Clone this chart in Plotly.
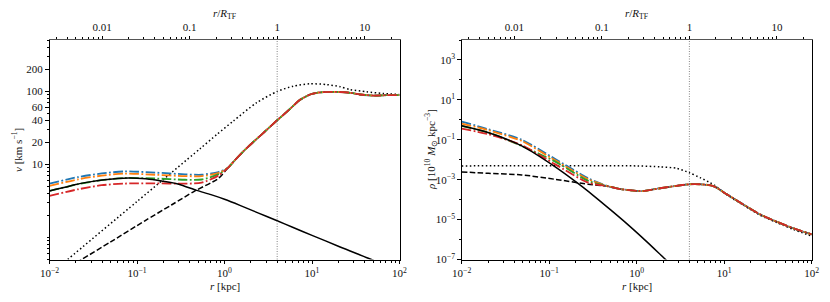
import plotly.graph_objects as go
import math

# ---------------- data ----------------
R_TF = 4.0  # kpc, position of the vertical dotted line / top axis scale

# Left panel: circular velocity v [km/s] vs r [kpc]
r_core_v = [0.01, 0.015, 0.02, 0.03, 0.04, 0.06, 0.08, 0.1, 0.15, 0.2, 0.3, 0.48,
            0.7, 1.0, 1.5, 2.0, 3.0, 4.0, 6.0, 10.0, 20.0, 44.0, 100.0]
v_core = [4.33, 4.85, 5.3, 5.8, 6.1, 6.4, 6.5, 6.45, 6.2, 5.85, 5.35, 4.4,
          3.85, 3.33, 2.75, 2.38, 1.95, 1.69, 1.38, 1.07, 0.76, 0.52, 0.34]

r_in_v = [0.01, 0.0213, 0.0395, 0.073, 0.161, 0.354, 0.548, 0.85]
v_blue_in = [5.46, 6.7, 7.5, 8.0, 7.7, 7.3, 7.2, 7.85]
v_orange_in = [5.06, 6.24, 7.0, 7.47, 7.2, 6.9, 6.9, 7.6]
v_green_in = [4.33, 5.35, 6.08, 6.5, 6.4, 6.15, 6.2, 7.3]
v_red_in = [3.7, 4.56, 5.18, 5.46, 5.5, 5.45, 5.6, 7.0]

r_tail_v = [1.1, 1.3, 1.64, 2.0, 2.33, 3.03, 4.0, 5.14, 7.3, 9.5, 11.3, 17.5, 27.2, 35.4, 50.0, 71.0, 100.0]
v_tail = [9.0, 11.2, 15.0, 18.8, 22.2, 29.5, 40.0, 52.0, 76.0, 90.0, 95.0, 98.0, 95.0, 90.0, 87.0, 88.0, 88.0]

r_halo_in_v = [0.01, 0.0233, 0.05, 0.123, 0.25, 0.46, 0.85]
v_halo_in = [0.27, 0.5, 0.87, 1.69, 2.8, 4.33, 6.4]

r_tf_v = [0.01, 0.0161, 0.1, 0.527, 0.815, 1.26, 2.33, 4.0, 6.1, 9.5, 14.7, 20.9, 27.2, 42.0, 65.0, 100.0]
v_tf = [0.31, 0.5, 3.1, 16.4, 25.5, 39.0, 69.5, 99.0, 117.0, 126.0, 123.0, 115.0, 105.0, 98.0, 93.0, 90.0]

# Right panel: density rho [1e10 Msun/kpc^3] vs r [kpc]
r_core_rho = [0.01, 0.02, 0.0485, 0.116, 0.215, 0.32, 0.5, 0.77, 1.3, 2.2, 4.0]
rho_core = [0.5, 0.23, 0.049, 4.5e-3, 6.3e-4, 1.6e-4, 3.16e-5, 6.3e-6, 7.9e-7, 8.9e-8, 7.9e-9]

r_in_rho = [0.01, 0.0201, 0.0485, 0.116, 0.28, 0.47]
rho_blue_in = [0.81, 0.339, 0.1, 0.0112, 1.17e-3, 4.68e-4]
rho_orange_in = [0.646, 0.302, 0.087, 9.55e-3, 1.05e-3, 4.68e-4]
rho_green_in = [0.5, 0.23, 0.049, 8.3e-3, 8.7e-4, 4.68e-4]
rho_red_in = [0.363, 0.19, 0.0537, 6.0e-3, 7.1e-4, 4.68e-4]
rho_halo_in = [2.45e-3, 2.09e-3, 1.74e-3, 1.05e-3, 5.9e-4, 4.68e-4]

r_tail_rho = [0.67, 1.04, 1.19, 1.85, 4.0, 5.3, 7.5, 10.7, 16.5, 25.7, 40.0, 62.0, 100.0]
rho_tail = [3.31e-4, 2.69e-4, 2.69e-4, 3.72e-4, 5.89e-4, 5.89e-4, 4.79e-4, 1.86e-4,
            5.75e-5, 1.82e-5, 7.76e-6, 3.63e-6, 1.82e-6]

r_tf_rho = [0.01, 1.0, 1.85, 2.86, 4.0, 5.3, 6.9, 7.8, 10.7, 16.5, 25.7, 40.0, 62.0, 100.0]
rho_tf = [4.9e-3, 4.9e-3, 4.37e-3, 3.72e-3, 2.24e-3, 1.26e-3, 7.1e-4, 5.25e-4,
          1.74e-4, 5.37e-5, 1.66e-5, 7.08e-6, 3.16e-6, 1.48e-6]

# ticks
x_major = [0.01, 0.1, 1, 10, 100]
x_major_text = ["10<sup>−2</sup>", "10<sup>−1</sup>", "10<sup>0</sup>", "10<sup>1</sup>", "10<sup>2</sup>"]
top_major = [0.01, 0.1, 1, 10]
top_major_text = ["0.01", "0.1", "1", "10"]
v_major = [10, 20, 40, 60, 100, 200]
rho_major = [1e3, 1e1, 1e-1, 1e-3, 1e-5, 1e-7]
rho_major_text = ["10<sup>3</sup>", "10<sup>1</sup>", "10<sup>−1</sup>", "10<sup>−3</sup>",
                  "10<sup>−5</sup>", "10<sup>−7</sup>"]

BLUE, ORANGE, GREEN, RED = "#1f77b4", "#ff7f0e", "#2ca02c", "#d62728"
FONT = "Liberation Serif"

# ---------------- figure ----------------
W, H = 830, 302
fig = go.Figure()

def add(x, y, xa, ya, color, dash, width=1.5):
    fig.add_trace(go.Scatter(x=x, y=y, xaxis=xa, yaxis=ya, mode="lines",
                             line=dict(color=color, dash=dash, width=width,
                                       shape="spline", smoothing=0.7),
                             hoverinfo="skip", showlegend=False))

DD = "9.6px,2.4px,1.8px,2.4px"
DASH = "5.5px,2.4px"
DOT = "1.5px,2.5px"
CW = 1.8  # width of the coloured dash-dot curves

# left panel
add(r_halo_in_v + r_tail_v, v_halo_in + v_tail, "x", "y", "black", DASH)
add(r_tf_v, v_tf, "x", "y", "black", DOT)
for vin, col in [(v_blue_in, BLUE), (v_orange_in, ORANGE), (v_green_in, GREEN), (v_red_in, RED)]:
    add(r_in_v + r_tail_v, vin + v_tail, "x", "y", col, DD, CW)
add(r_core_v, v_core, "x", "y", "black", "solid")

# right panel
add(r_in_rho + r_tail_rho, rho_halo_in + rho_tail, "x2", "y2", "black", DASH)
add(r_tf_rho, rho_tf, "x2", "y2", "black", DOT)
for rin, col in [(rho_blue_in, BLUE), (rho_orange_in, ORANGE), (rho_green_in, GREEN), (rho_red_in, RED)]:
    add(r_in_rho + r_tail_rho, rin + rho_tail, "x2", "y2", col, DD, CW)
add(r_core_rho, rho_core, "x2", "y2", "black", "solid")

# invisible traces so that the top axes are drawn
fig.add_trace(go.Scatter(x=[1], y=[10], xaxis="x3", yaxis="y", mode="markers",
                         marker=dict(opacity=0), hoverinfo="skip", showlegend=False))
fig.add_trace(go.Scatter(x=[1], y=[1e-3], xaxis="x4", yaxis="y2", mode="markers",
                         marker=dict(opacity=0), hoverinfo="skip", showlegend=False))

def minor_decades(lo, hi):
    vals = []
    e = math.floor(math.log10(lo))
    while 10 ** e <= hi:
        for m in range(1, 10):
            v = m * 10 ** e
            if lo * 0.999 <= v <= hi * 1.001:
                vals.append(v)
        e += 1
    return vals

xdomL = [49.5 / W, 399.5 / W]
xdomR = [461.7 / W, 811.7 / W]
ydom = [1 - 259.5 / H, 1 - 40 / H]

tickfont = dict(family=FONT, size=11, color="#111")
common_ax = dict(type="log", showgrid=False, zeroline=False, showline=True, automargin=False,
                 linecolor="black", linewidth=1, ticks="outside", ticklen=3.5,
                 tickwidth=0.8, tickcolor="black", tickfont=tickfont, tickmode="array")

def minor(vals):
    return dict(tickmode="array", tickvals=vals, ticks="outside", ticklen=2,
                tickwidth=0.6, tickcolor="black")

xminor = minor_decades(0.01, 100)
topminor = minor_decades(0.01 / R_TF, 100 / R_TF)
vminor = minor_decades(0.5, 500)
rhominor = [1e4, 1e2, 1e0, 1e-2, 1e-4, 1e-6]

fig.update_layout(
    template="none",
    width=W, height=H, margin=dict(l=0, r=0, t=0, b=0, autoexpand=False),
    paper_bgcolor="white", plot_bgcolor="white", showlegend=False,
    xaxis=dict(common_ax, domain=xdomL, anchor="y", range=[-2, 2],
               tickvals=x_major, ticktext=x_major_text, minor=minor(xminor)),
    yaxis=dict(common_ax, domain=ydom, anchor="x", range=[math.log10(0.5), math.log10(500)],
               tickvals=v_major, ticktext=[str(v) for v in v_major], mirror=True,
               minor=minor(vminor)),
    xaxis3=dict(common_ax, overlaying="x", side="top", anchor="y",
                range=[math.log10(0.01 / R_TF), math.log10(100 / R_TF)],
                tickvals=top_major, ticktext=top_major_text, linecolor="#555",
                minor=minor(topminor)),
    xaxis2=dict(common_ax, domain=xdomR, anchor="y2", range=[-2, 2],
                tickvals=x_major, ticktext=x_major_text, minor=minor(xminor)),
    yaxis2=dict(common_ax, domain=ydom, anchor="x2", range=[-7, 4],
                tickvals=rho_major, ticktext=rho_major_text, mirror=True,
                minor=minor(rhominor)),
    xaxis4=dict(common_ax, overlaying="x2", side="top", anchor="y2",
                range=[math.log10(0.01 / R_TF), math.log10(100 / R_TF)],
                tickvals=top_major, ticktext=top_major_text, linecolor="#555",
                minor=minor(topminor)),
)

# vertical dotted line at r = R_TF
for xr, yr in [("x", "y domain"), ("x2", "y2 domain")]:
    fig.add_shape(type="line", xref=xr, yref=yr, x0=R_TF, x1=R_TF, y0=0, y1=1,
                  line=dict(color="#666", width=0.8, dash="1px,1.5px"), layer="above")

titlefont = dict(family=FONT, size=11, color="#111")
ann = [
    dict(x=224.5 / W, y=1 - 286 / H, text="<i>r</i> [kpc]"),
    dict(x=636.7 / W, y=1 - 286 / H, text="<i>r</i> [kpc]"),
    dict(x=224.5 / W, y=1 - 14 / H, text="<i>r</i>/<i>R</i><sub>TF</sub>"),
    dict(x=636.7 / W, y=1 - 14 / H, text="<i>r</i>/<i>R</i><sub>TF</sub>"),
    dict(x=17 / W, y=1 - 150 / H, text="<i>v</i> [km s<sup>−1</sup>]", textangle=-90),
    dict(x=431 / W, y=1 - 150 / H,
         text="<i>ρ</i> [10<sup>10</sup> <i>M</i><sub>⊙</sub> kpc<sup>−3</sup>]", textangle=-90),
]
for a in ann:
    fig.add_annotation(xref="paper", yref="paper", showarrow=False, font=titlefont,
                       xanchor="center", yanchor="middle", **a)

fig.write_html("out.html", config={"displayModeBar": False},
               post_script="document.body.style.margin='0px';document.body.style.overflow='hidden';")
